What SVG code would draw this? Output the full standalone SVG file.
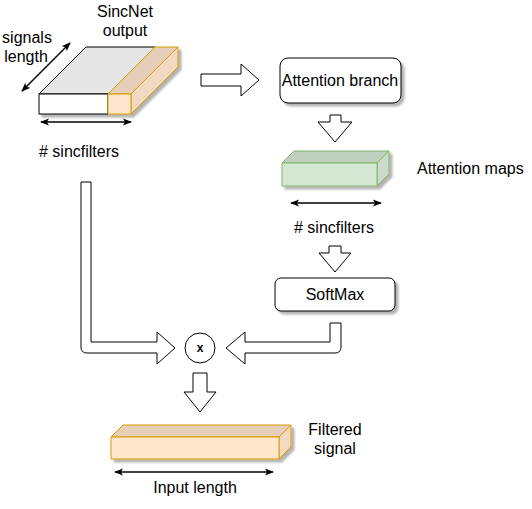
<svg xmlns="http://www.w3.org/2000/svg" width="532" height="509" viewBox="0 0 532 509">
<style>
text{font-family:"Liberation Sans",Arial,Helvetica,sans-serif;font-size:16px;fill:#000;}
.c{text-anchor:middle;}
.blk{fill:#fff;stroke:#000;stroke-width:1;stroke-linejoin:miter;}
.dim{fill:none;stroke:#000;stroke-width:1.5;marker-start:url(#ah);marker-end:url(#ah);}
.box{fill:#fff;stroke:#000;stroke-width:1;}
.or{stroke:#d79b00;stroke-width:1;stroke-linejoin:round;}
.gr{stroke:#82b366;stroke-width:1;stroke-linejoin:round;}
</style>
<defs>
<filter id="sh" x="-10%" y="-10%" width="130%" height="140%">
<feGaussianBlur in="SourceAlpha" stdDeviation="1"/>
<feOffset dx="3" dy="3" result="o"/>
<feComponentTransfer><feFuncA type="linear" slope="0.3"/></feComponentTransfer>
<feMerge><feMergeNode/><feMergeNode in="SourceGraphic"/></feMerge>
</filter>
<marker id="ah" viewBox="0 0 10 8" refX="9" refY="4" markerWidth="6" markerHeight="5" markerUnits="strokeWidth" orient="auto-start-reverse">
<path d="M0,0 L10,4 L0,8 L2.5,4 Z" fill="#000"/>
</marker>
</defs>

<g id="sincnet-output">
<g filter="url(#sh)">
<polygon points="39,94 86,47 155,47 108,94" fill="#e6e6e6" stroke="#000" stroke-width="1" stroke-linejoin="round"/>
<rect x="39" y="94" width="69" height="20" fill="#fff" stroke="#000" stroke-width="1"/>
<polygon class="or" points="108,94 155,47 178,47 131,94" fill="#e6cfb8"/>
<polygon class="or" points="131,94 178,47 178,67 131,114" fill="#f2dac2"/>
<rect class="or" x="108" y="94" width="23" height="20" fill="#ffe6cc"/>
</g>
<text class="c" x="125" y="17">SincNet</text>
<text class="c" x="125" y="36">output</text>
<text class="c" x="27" y="43">signals</text>
<text class="c" x="26" y="62">length</text>
<text class="c" x="79" y="157"># sincfilters</text>
</g>

<g id="attention-branch">
<rect class="box" x="280" y="58" width="121" height="45" rx="8" filter="url(#sh)"/>
<text class="c" x="340" y="86">Attention branch</text>
</g>

<g id="attention-maps">
<g filter="url(#sh)">
<polygon class="gr" points="282,163 294,151 389,151 377,163" fill="#bfd1be"/>
<polygon class="gr" points="377,163 389,151 389,174 377,186" fill="#cadcc9"/>
<rect class="gr" x="282" y="163" width="95" height="23" fill="#d5e8d4"/>
</g>
<text x="417" y="174">Attention maps</text>
<text class="c" x="334" y="233"># sincfilters</text>
</g>

<g id="softmax">
<rect class="box" x="275" y="278" width="120" height="33" rx="6" filter="url(#sh)"/>
<text class="c" x="335" y="300">SoftMax</text>
</g>

<g id="multiply">
<circle cx="200" cy="348" r="15" fill="#fff" stroke="#000" stroke-width="1"/>
<text class="c" x="200" y="352" style="font-size:12px;font-weight:bold">x</text>
</g>

<g id="filtered-signal">
<g filter="url(#sh)">
<polygon class="or" points="111,437 123,425 291,425 279,437" fill="#e6cfb8"/>
<polygon class="or" points="279,437 291,425 291,447 279,459" fill="#f2dac2"/>
<rect class="or" x="111" y="437" width="168" height="22" fill="#ffe6cc"/>
</g>
<text class="c" x="335" y="435">Filtered</text>
<text class="c" x="335" y="454">signal</text>
<text class="c" x="195" y="493">Input length</text>
</g>

<g id="connectors">
<path class="blk" d="M201,74 H241 V64 L259,80 L241,96 V86 H201 Z"/>
<path class="blk" d="M330,115 H341 V122 H352 L335,142 L318,122 H330 Z"/>
<path class="blk" d="M329,246 H341 V253 H351 L335,272 L319,253 H329 Z"/>
<path class="blk" d="M81,182 H91 V342 H157 V332 L175,348 L157,364 V353 H87 Q81,353 81,347 Z"/>
<path class="blk" d="M341,323 V347 Q341,353 335,353 H245 V364 L226,348 L245,332 V342 H330 V323 Z"/>
<path class="blk" d="M193,373 H207 V392 H216 L200,412 L184,392 H193 Z"/>
<line class="dim" x1="22" y1="91" x2="70" y2="43"/>
<line class="dim" x1="41" y1="122" x2="131" y2="122"/>
<line class="dim" x1="291" y1="203" x2="381" y2="203"/>
<line class="dim" x1="115" y1="472" x2="273" y2="472"/>
</g>
</svg>
